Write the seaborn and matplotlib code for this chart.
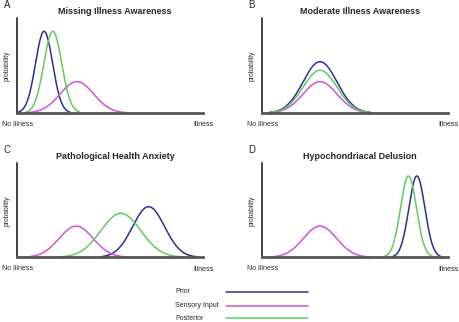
import numpy as np
import pandas as pd
import matplotlib
matplotlib.use("Agg")
import matplotlib.pyplot as plt
from matplotlib.lines import Line2D
import seaborn as sns

# Panel content
panels = ["A", "B", "C", "D"]
titles = ["Missing Illness Awareness", "Moderate Illness Awareness",
          "Pathological Health Anxiety", "Hypochondriacal Delusion"]
series = ["Prior", "Sensory Input", "Posterior"]

# Gaussian parameters per panel, ordered as in `series`
prior_mean = [1.47, 3.13, 7.08, 8.33]
prior_sd = [0.46, 0.91, 0.86, 0.43]
prior_peak = [0.86, 0.54, 0.535, 0.86]

sensory_mean = [3.23, 3.13, 3.19, 3.13]
sensory_sd = [0.90, 0.91, 0.91, 0.89]
sensory_peak = [0.33, 0.33, 0.33, 0.33]

posterior_mean = [1.94, 3.13, 5.59, 7.88]
posterior_sd = [0.48, 0.91, 1.07, 0.43]
posterior_peak = [0.86, 0.45, 0.465, 0.86]

colors = {"Prior": "#2e2e96", "Sensory Input": "#d452d4", "Posterior": "#5fcc5f"}

params = {
    "Prior": (prior_mean, prior_sd, prior_peak),
    "Sensory Input": (sensory_mean, sensory_sd, sensory_peak),
    "Posterior": (posterior_mean, posterior_sd, posterior_peak),
}

rows = []
for i, p in enumerate(panels):
    for s in series:
        mu, sd, pk = (v[i] for v in params[s])
        xs = np.linspace(mu - 3 * sd, mu + 3 * sd, 200)
        ys = pk * np.exp(-0.5 * ((xs - mu) / sd) ** 2)
        for x, y in zip(xs, ys):
            rows.append({"panel": p, "series": s, "x": x, "y": y})
df = pd.DataFrame(rows)

sns.set_style("white")
plt.rcParams["font.family"] = ["Liberation Sans", "DejaVu Sans"]

W, H = 460, 322
fig = plt.figure(figsize=(W / 100, H / 100), dpi=100)

# axes boxes in pixels: left, top, right, bottom
boxes = {
    "A": (16.7, 18, 203, 113),
    "B": (261.7, 18, 448, 113),
    "C": (16.7, 162.7, 203, 257.3),
    "D": (261.7, 162.7, 448, 257.3),
}

def fx(px):
    return px / W

def fy(py):
    return 1 - py / H

for i, p in enumerate(panels):
    l, t, r, b = boxes[p]
    ax = fig.add_axes([fx(l), fy(b), fx(r) - fx(l), (b - t) / H])
    sub = df[df.panel == p]
    sns.lineplot(data=sub, x="x", y="y", hue="series", hue_order=series,
                 palette=colors, ax=ax, legend=False, linewidth=1.1,
                 estimator=None, sort=False)
    ax.set_xlim(0, 10)
    ax.set_ylim(0, 1)
    ax.set_xticks([])
    ax.set_yticks([])
    ax.set_xlabel("")
    ax.set_ylabel("")
    for side in ("top", "right"):
        ax.spines[side].set_visible(False)
    ax.spines["left"].set_color("#111111")
    ax.spines["left"].set_linewidth(1.1)
    ax.spines["bottom"].set_color("#555555")
    ax.spines["bottom"].set_linewidth(2.0)

    cx = (l + r) / 2 + (115 - (16.7 + 203) / 2)
    fig.text(fx(cx), fy(t - 6), titles[i], ha="center", va="center",
             fontsize=6.5, fontweight="bold")
    fig.text(fx(l - 13), fy(t - 13), p, ha="left", va="center", fontsize=7)
    fig.text(fx(l - 10), fy(t + 48), "probability", rotation=90,
             ha="center", va="center", fontsize=4.8)
    fig.text(fx(l - 14.5), fy(b + 11), "No illness", ha="left", va="center",
             fontsize=5)
    fig.text(fx(r + 10.5), fy(b + 12), "Illness", ha="right", va="center",
             fontsize=5)

# legend
legend_rows = [(291.7, "Prior"), (305.7, "Sensory Input"), (318.3, "Posterior")]
for y, s in legend_rows:
    fig.text(fx(175), fy(y), s, ha="left", va="center", fontsize=5)
    fig.add_artist(Line2D([fx(226), fx(307.7)], [fy(y), fy(y)],
                          color=colors[s], linewidth=1.1))

fig.savefig("out.png", dpi=100)
